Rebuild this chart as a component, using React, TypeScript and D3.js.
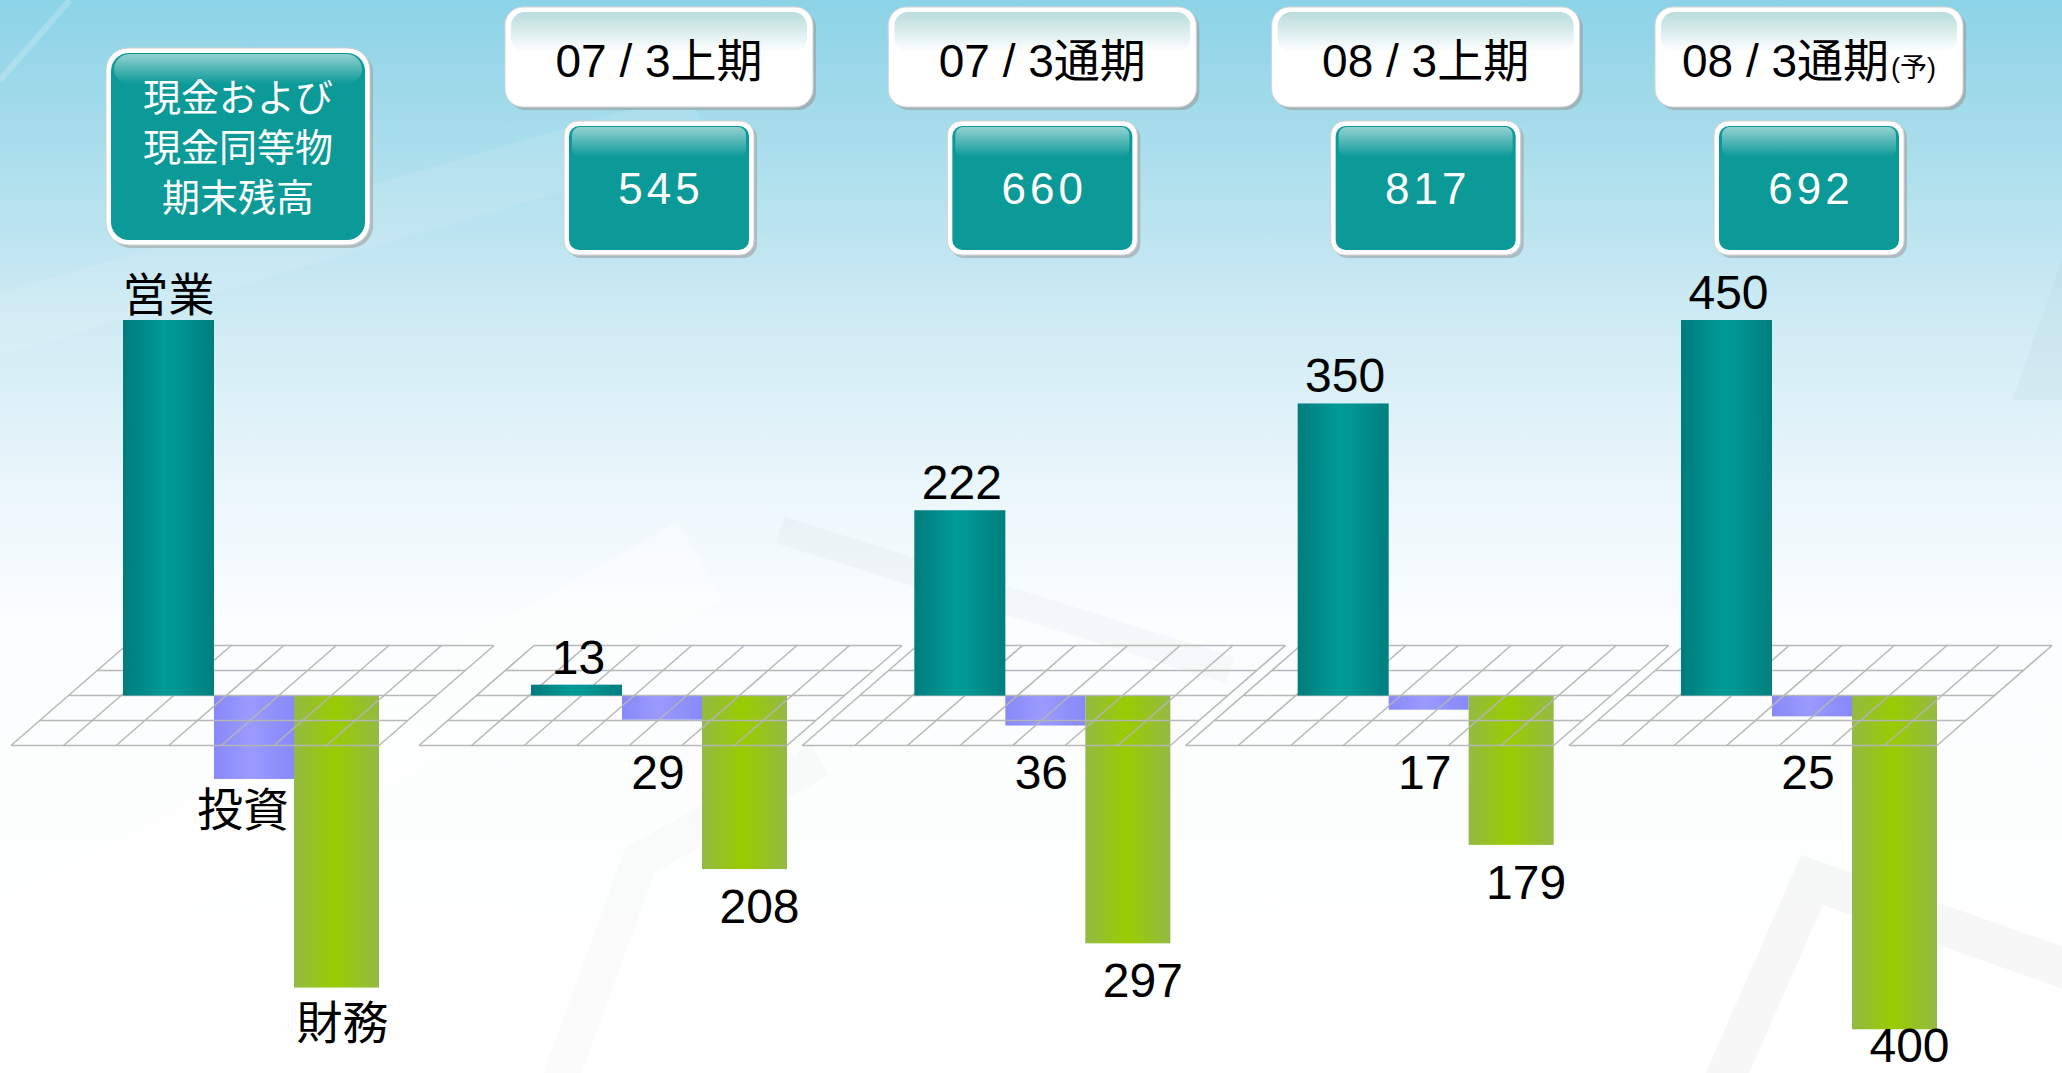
import * as d3 from "d3";

// 連結キャッシュフロー（億円）: 営業 / 投資 / 財務、期末の現金及び現金同等物残高
const periods = ["07 / 3上期", "07 / 3通期", "08 / 3上期", "08 / 3通期"];
const periodNotes = ["", "", "", "(予)"];
const cashBalance = [545, 660, 817, 692];
const operating = [13, 222, 350, 450];
const investing = [-29, -36, -17, -25];
const financing = [-208, -297, -179, -400];

// 左端の凡例グループ（数値なしの見本バー）
const legendTitle = ["現金および", "現金同等物", "期末残高"];
const legendLabels = ["営業", "投資", "財務"];
const legendSample = [450, -100, -350];

const W = 2062;
const H = 1073;
const ZERO_Y = 695.5;
const FLOOR_DEPTH = 50; // floor reaches 50px in front of / behind the zero line
const SLANT = 1.15;
const GRID_W = 368;
const GRID_COLS = 7;
const LEGEND_X = 11;

const NUM_FONT = "'Liberation Sans', Arial, 'Noto Sans CJK JP', sans-serif";
const JP_FONT = "'Noto Sans CJK JP', 'Liberation Sans', sans-serif";

// bar slots relative to the left-front corner of each floor
const SLOTS = [
  { x0: 112, x1: 203, fill: "url(#gTeal)" },
  { x0: 203, x1: 283, fill: "url(#gPurple)" },
  { x0: 283, x1: 368, fill: "url(#gGreen)" },
];

const y = d3.scaleLinear().domain([0, 450]).range([ZERO_Y, 320]);
const groupX = d3.scaleLinear().domain([0, periods.length - 1]).range([419, 1569]);

function Floor({ gx }: { gx: number }) {
  const front = ZERO_Y + FLOOR_DEPTH;
  const rows = d3.range(-FLOOR_DEPTH, FLOOR_DEPTH + 1, FLOOR_DEPTH / 2).map((d) => ZERO_Y + d);
  const cols = d3.range(GRID_COLS + 1).map((k) => gx + (k * GRID_W) / GRID_COLS);
  const dx = 2 * FLOOR_DEPTH * SLANT;
  return (
    <g stroke="#b5b5b5" strokeWidth={1.6} strokeOpacity={0.95}>
      {rows.map((ry, i) => {
        const lx = gx + (front - ry) * SLANT;
        return <line key={`r${i}`} x1={lx} x2={lx + GRID_W} y1={ry} y2={ry} />;
      })}
      {cols.map((cx, i) => (
        <line key={`c${i}`} x1={cx} y1={front} x2={cx + dx} y2={front - 2 * FLOOR_DEPTH} />
      ))}
    </g>
  );
}

function Bar({ gx, slot, v }: { gx: number; slot: number; v: number }) {
  const s = SLOTS[slot];
  const y0 = Math.min(y(v), y(0));
  const h = Math.abs(y(v) - y(0));
  return <rect x={gx + s.x0} y={y0} width={s.x1 - s.x0} height={h} fill={s.fill} />;
}

function mid(gx: number, slot: number) {
  return gx + (SLOTS[slot].x0 + SLOTS[slot].x1) / 2;
}

function Glossy({ x, y: top, w, h, r, fill = "#0c9a98" }: { x: number; y: number; w: number; h: number; r: number; fill?: string }) {
  return (
    <g>
      <rect x={x + 3} y={top + 3} width={w} height={h} rx={r} fill="#9a9a9a" opacity={0.55} />
      <rect x={x} y={top} width={w} height={h} rx={r} fill="#ffffff" stroke="#d0d0d0" strokeWidth={1} />
      <rect x={x + 5} y={top + 5} width={w - 10} height={h - 10} rx={r - 4} fill={fill} />
      <rect x={x + 8} y={top + 6} width={w - 16} height={30} rx={r - 6} fill="url(#gGloss)" />
    </g>
  );
}

function Header({ cx, label, note }: { cx: number; label: string; note: string }) {
  const w = 308;
  const top = 7;
  const h = 100;
  return (
    <g>
      <rect x={cx - w / 2 + 3} y={top + 3} width={w} height={h} rx={18} fill="#9a9a9a" opacity={0.6} />
      <rect x={cx - w / 2} y={top} width={w} height={h} rx={18} fill="#ffffff" stroke="#d4d4d4" strokeWidth={1} />
      <rect x={cx - w / 2 + 6} y={top + 5} width={w - 12} height={40} rx={14} fill="url(#gHead)" />
      <text x={cx} y={77} textAnchor="middle" fontFamily={NUM_FONT} fontSize={46} fill="#000">
        {label}
        {note && (
          <tspan fontSize={27} dx={2}>
            {note}
          </tspan>
        )}
      </text>
    </g>
  );
}

export default function App() {
  const groups = periods.map((p, i) => ({
    gx: groupX(i),
    label: p,
    note: periodNotes[i],
    cash: cashBalance[i],
    op: operating[i],
    inv: investing[i],
    fin: financing[i],
  }));

  return (
    <svg
      width={W}
      height={H}
      viewBox={`0 0 ${W} ${H}`}
      style={{ position: "absolute", left: 0, top: 0, display: "block" }}
    >
      <defs>
        <linearGradient id="gBg" x1="0" y1="0" x2="0" y2="1">
          <stop offset="0" stopColor="#8cd3e7" />
          <stop offset="0.12" stopColor="#a6dceb" />
          <stop offset="0.3" stopColor="#cfebf4" />
          <stop offset="0.45" stopColor="#eaf6fb" />
          <stop offset="0.58" stopColor="#fbfdfe" />
          <stop offset="1" stopColor="#ffffff" />
        </linearGradient>
        <linearGradient id="gTeal" x1="0" y1="0" x2="1" y2="0">
          <stop offset="0" stopColor="#007c7c" />
          <stop offset="0.45" stopColor="#009a97" />
          <stop offset="0.6" stopColor="#009693" />
          <stop offset="1" stopColor="#007e7e" />
        </linearGradient>
        <linearGradient id="gPurple" x1="0" y1="0" x2="1" y2="0">
          <stop offset="0" stopColor="#8888fa" />
          <stop offset="0.45" stopColor="#9a9afe" />
          <stop offset="1" stopColor="#8888fa" />
        </linearGradient>
        <linearGradient id="gGreen" x1="0" y1="0" x2="1" y2="0">
          <stop offset="0" stopColor="#94b944" />
          <stop offset="0.48" stopColor="#99cc00" />
          <stop offset="1" stopColor="#94b944" />
        </linearGradient>
        <linearGradient id="gGloss" x1="0" y1="0" x2="0" y2="1">
          <stop offset="0" stopColor="#ffffff" stopOpacity={0.55} />
          <stop offset="1" stopColor="#ffffff" stopOpacity={0} />
        </linearGradient>
        <linearGradient id="gHead" x1="0" y1="0" x2="0" y2="1">
          <stop offset="0" stopColor="#b9dcdc" />
          <stop offset="1" stopColor="#ffffff" />
        </linearGradient>
      </defs>

      {/* background */}
      <rect width={W} height={H} fill="url(#gBg)" />
      <g fill="none" strokeLinecap="butt">
        <path d="M -20 330 L 700 120" stroke="#ffffff" strokeOpacity={0.1} strokeWidth={60} />
        <path d="M 0 80 L 70 0" stroke="#ffffff" strokeOpacity={0.2} strokeWidth={6} />
        <path d="M 0 960 L 700 560" stroke="#ffffff" strokeOpacity={0.4} strokeWidth={90} />
        <path d="M 780 530 L 1230 670" stroke="#000" strokeOpacity={0.022} strokeWidth={28} />
        <path d="M 560 1080 L 640 860 L 820 760" stroke="#000" strokeOpacity={0.015} strokeWidth={36} />
        <path d="M 1720 1090 L 1812 880 L 2070 970" stroke="#000" strokeOpacity={0.03} strokeWidth={40} />
        <path d="M 2062 260 L 2012 400 L 2062 400 Z" fill="#9ab8c4" fillOpacity={0.1} stroke="none" />
      </g>

      {/* legend group */}
      <Glossy x={106} y={48} w={264} h={197} r={22} />
      {legendTitle.map((t, i) => (
        <text
          key={t}
          x={238}
          y={111 + i * 50}
          textAnchor="middle"
          fontFamily={JP_FONT}
          fontSize={38}
          fill="#ffffff"
        >
          {t}
        </text>
      ))}
      <Bar gx={LEGEND_X} slot={1} v={legendSample[1]} />
      <Bar gx={LEGEND_X} slot={2} v={legendSample[2]} />
      <Floor gx={LEGEND_X} />
      <Bar gx={LEGEND_X} slot={0} v={legendSample[0]} />
      <g fontFamily={JP_FONT} fontSize={46} fill="#000" textAnchor="middle">
        <text x={mid(LEGEND_X, 0)} y={y(legendSample[0]) - 9}>
          {legendLabels[0]}
        </text>
        <text x={mid(LEGEND_X, 1) - 11} y={y(legendSample[1]) + 47}>
          {legendLabels[1]}
        </text>
        <text x={mid(LEGEND_X, 2) + 6} y={y(legendSample[2]) + 51}>
          {legendLabels[2]}
        </text>
      </g>

      {/* period groups: negative bars under a see-through floor, positive bars on top */}
      {groups.map((g) => (
        <g key={g.label}>
          <Bar gx={g.gx} slot={1} v={g.inv} />
          <Bar gx={g.gx} slot={2} v={g.fin} />
          <Floor gx={g.gx} />
          <Bar gx={g.gx} slot={0} v={g.op} />
        </g>
      ))}

      <g fontFamily={NUM_FONT} fontSize={48} fill="#000" textAnchor="middle">
        {groups.map((g) => (
          <g key={g.label}>
            <text x={mid(g.gx, 0) + 2} y={y(g.op) - 11}>
              {g.op}
            </text>
            <text x={mid(g.gx, 1) - 4} y={789}>
              {Math.abs(g.inv)}
            </text>
            <text x={mid(g.gx, 2) + 15} y={Math.min(y(g.fin) + 54, H - 11)}>
              {Math.abs(g.fin)}
            </text>
          </g>
        ))}
      </g>

      {/* period headers and closing cash balance */}
      {groups.map((g) => {
        const cx = g.gx + 240;
        return (
          <g key={g.label}>
            <Header cx={cx} label={g.label} note={g.note} />
            <Glossy x={cx - 95} y={121} w={190} h={134} r={14} />
            <text
              x={cx + 2}
              y={204}
              textAnchor="middle"
              fontFamily={NUM_FONT}
              fontSize={44}
              letterSpacing={4}
              fill="#ffffff"
            >
              {g.cash}
            </text>
          </g>
        );
      })}
    </svg>
  );
}
